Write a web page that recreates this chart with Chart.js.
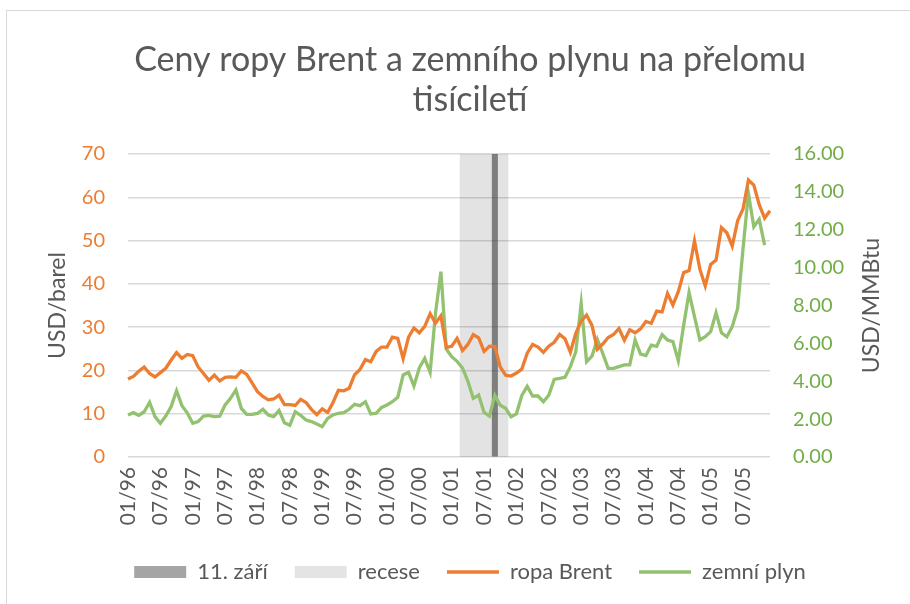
<!DOCTYPE html>
<html lang="cs">
<head>
<meta charset="utf-8">
<title>Ceny ropy Brent a zemního plynu</title>
<script src="https://cdn.jsdelivr.net/npm/chart.js@4.4.1/dist/chart.umd.min.js"></script>
<style>
  html, body { margin: 0; padding: 0; background: #fff; }
  #wrap { position: relative; width: 910px; height: 604px; overflow: hidden; }
  #frame { position: absolute; left: 6px; top: 10px; width: 910px; height: 600px; border: 1px solid #d9d9d9; pointer-events: none; }
</style>
</head>
<body>
<div id="wrap">
  <canvas id="chart" width="910" height="604"></canvas>
  <div id="frame"></div>
</div>
<script>
// mesice 01/96 .. 12/05
const months = [];
for (let y = 1996; y <= 2005; y++) {
  for (let m = 1; m <= 12; m++) {
    months.push(String(m).padStart(2, '0') + '/' + String(y).slice(2));
  }
}

// ropa Brent, USD/barel
const brent = [
  18.0, 18.6, 19.8, 20.8, 19.3, 18.5, 19.5, 20.5, 22.4, 24.1, 22.8, 23.7,
  23.4, 20.8, 19.3, 17.7, 18.9, 17.6, 18.4, 18.5, 18.4, 19.9, 19.1, 17.1,
  15.1, 14.0, 13.2, 13.4, 14.3, 12.1, 12.1, 11.9, 13.3, 12.6, 11.0, 9.8,
  11.1, 10.3, 12.6, 15.4, 15.3, 15.9, 19.0, 20.2, 22.5, 22.0, 24.4, 25.4,
  25.4, 27.7, 27.4, 22.7, 27.7, 29.8, 28.7, 30.2, 33.1, 30.9, 32.6, 25.3,
  25.6, 27.4, 24.6, 26.0, 28.3, 27.5, 24.4, 25.6, 25.5, 20.8, 18.9, 18.7,
  19.4, 20.3, 24.0, 26.0, 25.4, 24.2, 25.6, 26.5, 28.3, 27.3, 24.2, 28.6,
  31.4, 32.8, 30.4, 24.9, 26.1, 27.6, 28.3, 29.7, 27.0, 29.4, 28.7, 29.6,
  31.3, 30.9, 33.7, 33.5, 37.8, 35.1, 38.2, 42.6, 43.1, 49.9, 43.4, 39.5,
  44.5, 45.5, 53.0, 51.8, 48.7, 54.6, 57.3, 64.0, 62.8, 58.3, 55.2, 56.9
];

// zemni plyn, USD/MMBtu
const gas = [
  2.22, 2.34, 2.20, 2.39, 2.89, 2.13, 1.78, 2.16, 2.66, 3.50, 2.71, 2.32,
  1.78, 1.87, 2.16, 2.20, 2.13, 2.16, 2.75, 3.10, 3.54, 2.57, 2.25, 2.25,
  2.30, 2.52, 2.22, 2.13, 2.45, 1.81, 1.68, 2.39, 2.20, 1.95, 1.87, 1.74,
  1.60, 2.04, 2.22, 2.31, 2.34, 2.52, 2.78, 2.71, 2.92, 2.27, 2.31, 2.62,
  2.75, 2.92, 3.15, 4.33, 4.47, 3.75, 4.71, 5.21, 4.47, 7.59, 9.79, 5.70,
  5.30, 5.05, 4.70, 4.00, 3.10, 3.27, 2.35, 2.16, 3.25, 2.73, 2.57, 2.12,
  2.28, 3.25, 3.73, 3.22, 3.22, 2.92, 3.27, 4.10, 4.15, 4.21, 4.77, 5.56,
  8.11, 5.03, 5.33, 6.21, 5.47, 4.68, 4.68, 4.77, 4.86, 4.86, 6.18, 5.43,
  5.36, 5.91, 5.84, 6.46, 6.18, 6.09, 5.08, 6.97, 8.68, 7.41, 6.18, 6.35,
  6.62, 7.62, 6.56, 6.35, 6.88, 7.85, 11.00, 13.92, 12.16, 12.55, 11.19, null
];

// recese 03/01 - 11/01, 11. zari 09/01
const recessionFrom = '03/01';
const recessionTo = '11/01';
const attackMonth = '09/01';
const barTop = 70;

const recFrom = months.indexOf(recessionFrom);
const recTo = months.indexOf(recessionTo);
// stupnovita plocha: okraje v pulce mezi mesici, jako sirka sloupce
const recese = months.map((m, i) => {
  if (i >= recFrom && i <= recTo) return barTop;
  if (i === recFrom - 1 || i === recTo + 1) return 0;
  return null;
});
const zari = months.map(m => (m === attackMonth ? barTop : null));

const FONT = 'Lato';
const GREY = '#595959';

// titulek prave osy cte se zdola nahoru jako u leve
const rightTitle = {
  id: 'rightTitle',
  afterDraw(chart) {
    const s = chart.scales.y1;
    const c = chart.ctx;
    c.save();
    c.translate(s.left + 102, (s.top + s.bottom) / 2);
    c.rotate(-Math.PI / 2);
    c.font = '23px ' + FONT;
    c.fillStyle = GREY;
    c.textAlign = 'center';
    c.textBaseline = 'middle';
    c.fillText('USD/MMBtu', 0, 0);
    c.restore();
  }
};

new Chart(document.getElementById('chart'), {
  type: 'line',
  data: {
    labels: months,
    datasets: [
      {
        type: 'bar', label: '11. září', data: zari, swatch: 'box',
        backgroundColor: 'rgba(60,60,60,0.6)', legendColor: '#a5a5a5',
        borderWidth: 0, grouped: false, barPercentage: 1, categoryPercentage: 1,
        yAxisID: 'y', order: 3
      },
      {
        type: 'line', label: 'recese', data: recese, swatch: 'box',
        stepped: 'middle', fill: 'origin', spanGaps: false,
        backgroundColor: 'rgba(0,0,0,0.11)', legendColor: '#e4e4e4',
        borderWidth: 0, borderColor: 'rgba(0,0,0,0)', pointRadius: 0,
        yAxisID: 'y', order: 4
      },
      {
        type: 'line', label: 'ropa Brent', data: brent, swatch: 'line',
        borderColor: '#ed7d31', borderWidth: 3.3, pointRadius: 0, tension: 0,
        yAxisID: 'y', order: 1
      },
      {
        type: 'line', label: 'zemní plyn', data: gas, swatch: 'line',
        borderColor: '#92c16f', borderWidth: 3.3, pointRadius: 0, tension: 0,
        yAxisID: 'y1', order: 2
      }
    ]
  },
  options: {
    responsive: false,
    animation: false,
    layout: { padding: { top: 10, bottom: 11, left: 30, right: 0 } },
    plugins: {
      title: {
        display: true,
        text: ['Ceny ropy Brent a zemního plynu na přelomu', 'tisíciletí'],
        color: GREY,
        font: { family: FONT, size: 34, weight: 'normal', lineHeight: '40px' },
        padding: { top: 30, bottom: 34 }
      },
      legend: {
        position: 'bottom',
        labels: {
          usePointStyle: true,
          pointStyleWidth: 52,
          boxHeight: 12,
          padding: 27,
          color: GREY,
          font: { family: FONT, size: 22 },
          generateLabels: chart => chart.data.datasets.map((ds, i) => {
            const isLine = ds.swatch === 'line';
            return {
              text: ds.label,
              datasetIndex: i,
              fontColor: GREY,
              fillStyle: isLine ? 'rgba(0,0,0,0)' : ds.legendColor,
              strokeStyle: isLine ? ds.borderColor : 'rgba(0,0,0,0)',
              lineWidth: isLine ? 3.3 : 0,
              pointStyle: isLine ? 'line' : 'rect',
              hidden: false
            };
          })
        }
      },
      tooltip: { enabled: false }
    },
    scales: {
      x: {
        type: 'category',
        offset: false,
        grid: { display: false, drawTicks: false },
        border: { display: false },
        ticks: {
          autoSkip: false,
          maxRotation: 90,
          minRotation: 90,
          padding: 10,
          color: GREY,
          font: { family: FONT, size: 21 },
          callback: (v, i) => (i % 6 === 0 ? months[i] : null)
        },
        afterFit(s) { s.height = 77; }
      },
      y: {
        position: 'left',
        min: 0,
        max: 70,
        ticks: { stepSize: 10, padding: 23, color: '#ed7d31', font: { family: FONT, size: 20 } },
        grid: { color: '#d9d9d9', lineWidth: 1.5, drawTicks: false },
        border: { display: false },
        title: {
          display: true, text: 'USD/barel', color: GREY,
          font: { family: FONT, size: 23 }, padding: { top: 14, bottom: 0 }
        },
        afterFit(s) { s.width = 98; }
      },
      y1: {
        position: 'right',
        min: 0,
        max: 16,
        ticks: {
          stepSize: 2, padding: 23, color: '#70ad47',
          font: { family: FONT, size: 20 },
          callback: v => v.toFixed(2)
        },
        grid: { display: false, drawTicks: false },
        border: { display: false },
        afterFit(s) { s.width = 140; }
      }
    }
  },
  plugins: [rightTitle]
});
</script>
</body>
</html>
